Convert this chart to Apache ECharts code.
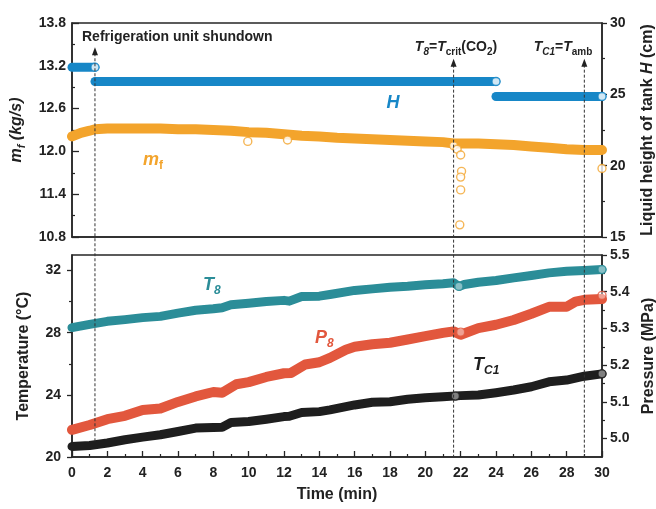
<!DOCTYPE html>
<html><head><meta charset="utf-8">
<script src="https://cdn.jsdelivr.net/npm/echarts@6/dist/echarts.min.js"></script>
<style>html,body{margin:0;padding:0;background:#fff}#c{width:656px;height:509px}</style>
</head><body><div id="c"></div>
<script>
const FONT = 'Arial, "Liberation Sans", Helvetica, sans-serif';

// ---------- data ----------
const timeMf = [0,0.5,1,1.3,2,3,4,5,6,7,8,9,10,11,12,13,14,15,16,17,18,19,20,21,21.6,22,23,24,25,26,27,28,29,30];
const mfVals = [12.21,12.26,12.29,12.31,12.32,12.32,12.32,12.32,12.31,12.31,12.30,12.29,12.27,12.26,12.24,12.22,12.21,12.19,12.18,12.17,12.16,12.15,12.14,12.13,12.11,12.11,12.11,12.10,12.09,12.07,12.05,12.03,12.02,12.02];
const mfOutTime = [9.95,12.2,21.6,21.8,22.0,22.05,22.0,22.0,21.95,30];
const mfOutVals = [12.14,12.16,12.08,12.03,11.95,11.72,11.64,11.46,10.97,11.76];

const hStageStart = [0, 1.3, 24];
const hStageEnd   = [1.3, 24, 30];
const hStageVals  = [26.9, 25.9, 24.85];
const hOpenTime = [1.3, 24, 30];
const hOpenVals = [26.9, 25.9, 24.85];

const timeT8 = [0,1,2,3,4,5,6,7,8,8.5,9,10,11,12,12.3,13,14,14.6,16,17,18,19,20,21,21.6,21.9,22.2,23,24,25,26,27,28,29,30];
const t8Vals = [28.33,28.54,28.73,28.84,28.97,29.05,29.26,29.44,29.54,29.61,29.80,29.90,30.01,30.08,30.03,30.33,30.35,30.46,30.72,30.82,30.93,30.99,31.08,31.15,31.21,30.98,31.10,31.25,31.36,31.53,31.68,31.85,31.95,32.00,32.06];

const timeP8 = [0,1,2,3,4,5,6,7,8,8.5,9.3,10,11,12,12.4,13.2,14,14.6,15.5,16,17,18,19,20,21,21.6,22,23,24,25,26,27,28,28.5,29,30];
const p8Vals = [5.024,5.037,5.053,5.062,5.078,5.082,5.100,5.115,5.127,5.125,5.148,5.154,5.168,5.178,5.179,5.202,5.208,5.220,5.242,5.250,5.257,5.261,5.270,5.279,5.288,5.292,5.283,5.301,5.310,5.323,5.340,5.359,5.359,5.373,5.378,5.380];

const timeTc = [0,1,2,3,4,5,6,7,8,8.5,9,10,11,12,12.3,13,14,14.6,16,17,18,19,20,21,22,23,24,25,26,27,28,29,30];
const tcVals = [20.68,20.74,20.90,21.11,21.28,21.43,21.64,21.86,21.90,21.92,22.22,22.28,22.43,22.60,22.62,22.86,22.92,23.03,23.35,23.52,23.56,23.72,23.82,23.88,23.95,23.99,24.14,24.31,24.52,24.84,24.95,25.20,25.35];

const openBottomT8 = [[21.9, 30.98],[30, 32.06]];
const openBottomP8 = [[22.0, 5.29],[30, 5.39]];
const openBottomTc = [[21.7, 23.92],[30, 25.35]];

// event markers: time, arrow tip on m_f axis, lower end on temperature axis
const eventTimes = [1.3, 21.6, 29];
const eventTipVals = [13.46, 13.30, 13.30];
const eventEndVals = [20.9, 20, 20];

// ticks
const mfTicks = [10.8, 11.4, 12.0, 12.6, 13.2, 13.8];
const mfMinor = [11.1, 11.7, 12.3, 12.9, 13.5];
const hTicks = [15, 20, 25, 30];
const hMinor = [17.5, 22.5, 27.5];
const tTicks = [20, 24, 28, 32];
const tMinor = [22, 26, 30];
const pTicks = [5.0, 5.1, 5.2, 5.3, 5.4, 5.5];
const pMinor = [5.05, 5.15, 5.25, 5.35, 5.45];

// ---------- colours ----------
const C_MF = '#F3A42C', C_H = '#1787C7', C_T8 = '#2B8D98', C_P8 = '#E2573D', C_TC = '#1E1E1E';
const AX = '#262626';

const zip = (a, b) => a.map((t, i) => [t, b[i]]);

const chart = echarts.init(document.getElementById('c'), null, {renderer: 'canvas'});

const labelStyle = {fontSize: 14, fontWeight: 'bold', color: '#222', fontFamily: FONT};
const nameStyle = {fontSize: 16, fontWeight: 'bold', color: '#222', fontFamily: FONT};

function yMain(grid, pos, min, max, ticks, inside, len, margin, fmt, name, nameGap, nameRich) {
  return {
    type: 'value', gridIndex: grid, position: pos, min: min, max: max,
    axisLine: {show: true, lineStyle: {color: AX, width: 1.5}},
    axisTick: {show: true, inside: inside, length: len, customValues: ticks, lineStyle: {color: AX, width: 1.3}},
    axisLabel: Object.assign({show: true, margin: margin, customValues: ticks, formatter: fmt}, labelStyle),
    splitLine: {show: false},
    name: name, nameLocation: 'middle', nameGap: nameGap, nameRotate: 90,
    nameTextStyle: Object.assign({}, nameStyle, nameRich ? {rich: nameRich} : {})
  };
}
function yMinor(grid, pos, min, max, ticks, inside) {
  return {
    type: 'value', gridIndex: grid, position: pos, min: min, max: max,
    axisLine: {show: false},
    axisTick: {show: true, inside: inside, length: 3, customValues: ticks, lineStyle: {color: AX, width: 1.2}},
    axisLabel: {show: false}, splitLine: {show: false}
  };
}

const f1 = v => Number(v).toFixed(1);
const f0 = v => String(Math.round(v));

const nameRichBase = {fontSize: 16, fontWeight: 'bold', fontFamily: FONT, color: '#222'};
const mfNameRich = {
  i: Object.assign({}, nameRichBase, {fontStyle: 'italic', lineHeight: 22}),
  s: Object.assign({}, nameRichBase, {fontStyle: 'italic', fontSize: 11, lineHeight: 12, verticalAlign: 'bottom'})
};
const hNameRich = {
  n: Object.assign({}, nameRichBase, {lineHeight: 20}),
  i: Object.assign({}, nameRichBase, {fontStyle: 'italic', lineHeight: 20})
};

function band(xi, yi, data, color, width, z) {
  return {type: 'line', xAxisIndex: xi, yAxisIndex: yi, data: data, symbol: 'none', showSymbol: false,
    lineStyle: {color: color, width: width, cap: 'round', join: 'round'}, silent: true, z: z || 2, animation: false};
}
function rings(xi, yi, data, color, z, fill) {
  return {type: 'scatter', xAxisIndex: xi, yAxisIndex: yi, data: data, symbol: 'circle', symbolSize: 8,
    itemStyle: {color: fill || '#fff', borderColor: color, borderWidth: 1.4}, silent: true, z: z || 3, animation: false};
}

const series = [];
series.push(band(0, 0, zip(timeMf, mfVals), C_MF, 10, 2));
series.push(rings(0, 0, zip(mfOutTime, mfOutVals), C_MF, 3));
hStageVals.forEach((v, i) => {
  series.push(band(0, 2, [[hStageStart[i], v], [hStageEnd[i], v]], C_H, 9, 4));
});
series.push(rings(0, 2, zip(hOpenTime, hOpenVals), C_H, 5));
series.push(band(1, 4, zip(timeT8, t8Vals), C_T8, 9, 2));
series.push(rings(1, 4, openBottomT8, C_T8, 3, 'rgba(255,255,255,0.55)'));
series.push(band(1, 6, zip(timeP8, p8Vals), C_P8, 10, 2));
series.push(rings(1, 6, openBottomP8, C_P8, 3, 'rgba(255,255,255,0.55)'));
series.push(band(1, 4, zip(timeTc, tcVals), C_TC, 9, 2));
series.push(rings(1, 4, openBottomTc, C_TC, 3, 'rgba(255,255,255,0.55)'));

const gridBase = {left: 72, right: 54, show: true, borderColor: AX, borderWidth: 1.5, backgroundColor: 'transparent',
  containLabel: false, outerBoundsMode: 'none'};

chart.setOption({
  backgroundColor: '#fff',
  animation: false,
  textStyle: {fontFamily: FONT},
  grid: [
    Object.assign({top: 23, height: 214}, gridBase),
    Object.assign({top: 255, height: 202}, gridBase)
  ],
  xAxis: [
    {type: 'value', gridIndex: 0, min: 0, max: 30, interval: 2,
      axisLine: {show: true, lineStyle: {color: AX, width: 1.5}}, axisTick: {show: false}, axisLabel: {show: false}, splitLine: {show: false}},
    {type: 'value', gridIndex: 1, min: 0, max: 30, interval: 2,
      axisLine: {show: true, lineStyle: {color: AX, width: 1.5}},
      axisTick: {show: true, inside: true, length: 6, lineStyle: {color: AX, width: 1.3}},
      minorTick: {show: true, splitNumber: 2, length: 3, lineStyle: {color: AX, width: 1.2}},
      axisLabel: Object.assign({margin: 9}, labelStyle),
      splitLine: {show: false}, minorSplitLine: {show: false},
      name: 'Time (min)', nameLocation: 'middle', nameGap: 30, nameTextStyle: nameStyle}
  ],
  yAxis: [
    yMain(0, 'left', 10.8, 13.8, mfTicks, true, 7, 6, f1, '{i|m}{s|f}{i| (kg/s)}', 34, mfNameRich),
    yMinor(0, 'left', 10.8, 13.8, mfMinor, true),
    yMain(0, 'right', 15, 30, hTicks, false, 5, 8, f0, '{n|Liquid height of tank }{i|H}{n| (cm)}', 36, hNameRich),
    yMinor(0, 'right', 15, 30, hMinor, false),
    yMain(1, 'left', 20, 33, tTicks, false, 5, 11, f0, 'Temperature (°C)', 40),
    yMinor(1, 'left', 20, 33, tMinor, false),
    yMain(1, 'right', 4.95, 5.5, pTicks, false, 5, 8, f1, 'Pressure (MPa)', 36),
    yMinor(1, 'right', 4.95, 5.5, pMinor, false)
  ],
  series: series
});

// ---------- annotations ----------
function richText(color, base, sub) {
  const b = {fontSize: base, fontWeight: 'bold', fontFamily: FONT, fill: color, lineHeight: base + 6};
  return {
    n: Object.assign({}, b),
    i: Object.assign({}, b, {fontStyle: 'italic'}),
    s: {fontSize: sub, fontWeight: 'bold', fontFamily: FONT, fill: color, verticalAlign: 'bottom', lineHeight: sub + 1},
    is: {fontSize: sub, fontWeight: 'bold', fontStyle: 'italic', fontFamily: FONT, fill: color, verticalAlign: 'bottom', lineHeight: sub + 1}
  };
}
function txt(x, y, text, color, base, sub, align) {
  return {type: 'text', x: x, y: y, z: 100, silent: true,
    style: {text: text, rich: richText(color, base, sub), align: align || 'left', verticalAlign: 'middle',
      fill: color, fontSize: base, fontWeight: 'bold', fontFamily: FONT}};
}

const graphics = [];
eventTimes.forEach((t, i) => {
  const x = chart.convertToPixel({xAxisIndex: 0}, t);
  const yTip = chart.convertToPixel({yAxisIndex: 0}, eventTipVals[i]);
  const yEnd = chart.convertToPixel({yAxisIndex: 4}, eventEndVals[i]);
  graphics.push({type: 'line', z: 50, silent: true, shape: {x1: x, y1: yTip + 6, x2: x, y2: yEnd},
    style: {stroke: '#333', lineWidth: 1, lineDash: [3, 2]}});
  graphics.push({type: 'polygon', z: 51, silent: true, shape: {points: [[x, yTip], [x - 3, yTip + 8], [x + 3, yTip + 8]]},
    style: {fill: '#222'}});
});

graphics.push(txt(82, 37, '{n|Refrigeration unit shundown}', '#222', 14, 10));
graphics.push(txt(456, 47, '{i|T}{is|8}{n|=}{i|T}{s|crit}{n|(CO}{s|2}{n|)}', '#222', 14, 10, 'center'));
graphics.push(txt(563, 47, '{i|T}{is|C1}{n|=}{i|T}{s|amb}', '#222', 14, 10, 'center'));
graphics.push(txt(393, 103, '{i|H}', C_H, 18, 12, 'center'));
graphics.push(txt(143, 160, '{i|m}{s|f}', C_MF, 18, 12));
graphics.push(txt(203, 285, '{i|T}{is|8}', C_T8, 18, 12));
graphics.push(txt(315, 338, '{i|P}{is|8}', C_P8, 18, 12));
graphics.push(txt(473, 365, '{i|T}{is|C1}', C_TC, 18, 12));

chart.setOption({graphic: graphics});
</script>
</body></html>
